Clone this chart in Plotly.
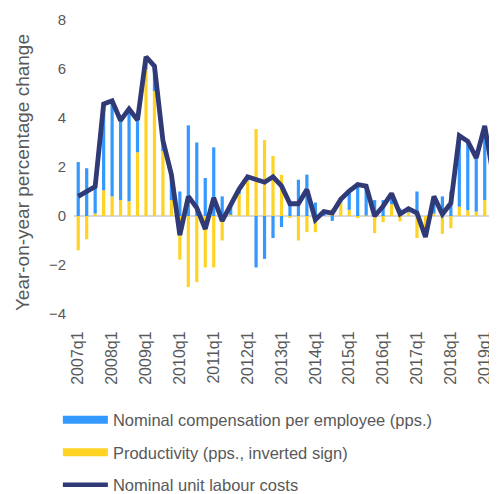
import plotly.graph_objects as go

# quarters 2007q1 .. 2019q3 (the last one is only partly visible at the right edge)
quarters = [f"{y}q{q}" for y in range(2007, 2020) for q in range(1, 5)][:51]
year_ticks = [q for q in quarters if q.endswith("q1")]

# Nominal compensation per employee (pps.)
compensation = [
    2.2, 1.95, 1.1, 3.5, 3.9, 3.25, 3.75, 1.3, 0.5, 1.05, 0.4, 1.05,
    1.0, 3.7, 3.0, 1.55, 2.8, 0.8, 0.45, 0.2, 0.15, -2.1, -1.75, -0.9,
    -0.45, 0.55, 1.48, 1.69, 0.55, 0.2, -0.2, 0.1, 0.78, 1.35, 1.2, 0.65,
    0.65, 0.45, 0.3, 0.15, 1.0, -0.08, 0.7, 0.8, 1.0, 2.9, 2.8, 2.2,
    3.0, 1.4, 1.1,
]
# Productivity (pps., inverted sign)
productivity = [
    -1.4, -0.95, 0.1, 1.05, 0.8, 0.65, 0.6, 2.6, 6.0, 5.1, 2.65, 0.65,
    -1.78, -2.9, -2.7, -2.1, -2.1, -1.0, 0.05, 0.9, 1.45, 3.55, 3.1, 2.45,
    1.68, -0.05, -1.0, -0.66, -0.66, 0.0, 0.3, 0.55, 0.25, -0.07, 0.02, -0.7,
    -0.25, 0.48, -0.22, 0.15, -0.9, -0.78, 0.1, -0.73, -0.5, 0.38, 0.24, 0.18,
    0.65, 0.24, 0.2,
]
# Nominal unit labour costs (y-o-y %)
unit_labour_costs = [
    0.8, 1.0, 1.2, 4.57, 4.7, 3.9, 4.37, 3.92, 6.5, 6.12, 3.08, 1.7,
    -0.78, 0.8, 0.33, -0.53, 0.74, -0.2, 0.5, 1.1, 1.6, 1.47, 1.38, 1.6,
    1.23, 0.5, 0.5, 1.08, -0.15, 0.18, 0.12, 0.68, 1.02, 1.28, 1.22, 0.0,
    0.4, 0.92, 0.08, 0.3, 0.12, -0.86, 0.8, 0.07, 0.52, 3.28, 3.05, 2.37,
    3.68, 1.65, 1.3,
]

BLUE = "#3399ff"
YELLOW = "#ffd324"
NAVY = "#2f3a76"
GREY_TEXT = "#595959"
FONT = "Liberation Sans, Arial, sans-serif"
CLEAR = "rgba(0,0,0,0)"

fig = go.Figure()

# yellow first so it sits next to the zero line when both are positive
fig.add_trace(go.Bar(x=quarters, y=productivity, marker_color=YELLOW,
                     marker_line_width=0, showlegend=False))
fig.add_trace(go.Bar(x=quarters, y=compensation, marker_color=BLUE,
                     marker_line_width=0, showlegend=False))
fig.add_trace(go.Scatter(x=quarters, y=unit_labour_costs, mode="lines",
                         line=dict(color=NAVY, width=4.8), showlegend=False))

# legend-only entries, drawn as wide strokes like the original
legend_items = [
    ("Nominal compensation per employee (pps.)", BLUE, 8),
    ("Productivity (pps., inverted sign)", YELLOW, 8),
    ("Nominal unit labour costs", NAVY, 4.5),
]
for rank, (name, color, width) in enumerate(legend_items, start=1):
    fig.add_trace(go.Scatter(x=[None], y=[None], mode="lines", name=name,
                             legendgroup=name, legendrank=rank,
                             line=dict(color=color, width=width)))

# the page body adds an 8px offset, so the figure is sized to fit the window
fig.update_layout(
    width=489,
    height=486,
    margin=dict(l=66, r=0, t=12, b=180, autoexpand=False),
    paper_bgcolor="white",
    plot_bgcolor="white",
    barmode="relative",
    bargap=0.62,
    font=dict(family=FONT, color=GREY_TEXT),
    legend=dict(
        xref="container", yref="container",
        x=0.102, y=0.188, xanchor="left", yanchor="top",
        font=dict(size=16.5, color=GREY_TEXT),
        itemwidth=45,
        tracegroupgap=8,
        bgcolor=CLEAR,
    ),
    xaxis=dict(
        type="category",
        range=[-0.5, 49.45],
        tickmode="array",
        tickvals=year_ticks,
        ticktext=year_ticks,
        tickangle=-90,
        tickfont=dict(size=16, color=GREY_TEXT),
        ticks="outside",
        ticklen=10,
        tickcolor=CLEAR,
        showgrid=False,
        showline=False,
        zeroline=False,
    ),
    yaxis=dict(
        range=[-4, 8],
        dtick=2,
        tickfont=dict(size=15, color=GREY_TEXT),
        ticks="outside",
        ticklen=4,
        tickcolor=CLEAR,
        showgrid=False,
        showline=False,
        zeroline=True,
        zerolinecolor="#d9d9d9",
        zerolinewidth=2,
    ),
    # axis title as a rotated annotation, pinned left of the tick labels
    annotations=[
        dict(
            text="Year-on-year percentage change",
            xref="paper", yref="paper",
            x=-0.12, y=0.48, xanchor="center", yanchor="middle",
            textangle=-90, showarrow=False,
            font=dict(size=19, color=GREY_TEXT),
        )
    ],
)

fig.write_html("out.html")
